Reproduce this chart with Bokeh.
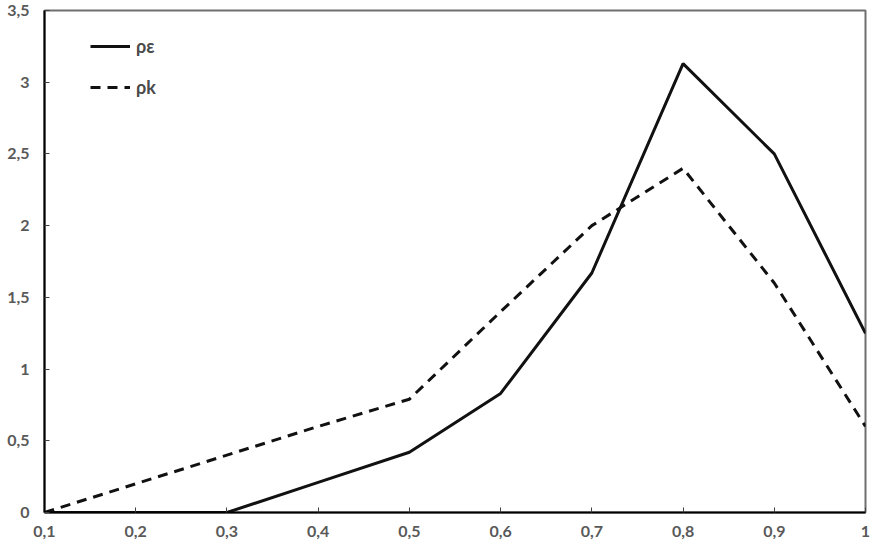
from bokeh.plotting import figure
from bokeh.models import Legend, LegendItem, FixedTicker, Range1d
from bokeh.embed import file_html
from bokeh.resources import INLINE

x_vals = [0.1, 0.2, 0.3, 0.4, 0.5, 0.6, 0.7, 0.8, 0.9, 1.0]
rho_eps = [0.0, 0.0, 0.0, 0.21, 0.42, 0.83, 1.67, 3.13, 2.50, 1.25]
rho_k = [0.0, 0.20, 0.40, 0.60, 0.79, 1.40, 2.00, 2.40, 1.60, 0.60]

x_ticks = [0.1, 0.2, 0.3, 0.4, 0.5, 0.6, 0.7, 0.8, 0.9, 1.0]
x_labels = ["0,1", "0,2", "0,3", "0,4", "0,5", "0,6", "0,7", "0,8", "0,9", "1"]
y_ticks = [0, 0.5, 1, 1.5, 2, 2.5, 3, 3.5]
y_labels = ["0", "0,5", "1", "1,5", "2", "2,5", "3", "3,5"]

FRAME_H = 502
p = figure(frame_width=821, frame_height=FRAME_H, output_backend="svg", toolbar_location=None,
           x_range=Range1d(0.1, 1.0), y_range=Range1d(0, 3.5),
           min_border_left=44, min_border_right=10, min_border_top=10, min_border_bottom=37)

p.xgrid.visible = False
p.ygrid.visible = False
p.outline_line_color = "#6f6f6f"
p.outline_line_width = 2
p.background_fill_color = "white"

r1 = p.line(x_vals, rho_eps, line_color="#111111", line_width=3)
r2 = p.line(x_vals, rho_k, line_color="#111111", line_width=3, line_dash="10 7")

for ax, ticks, labels in ((p.xaxis[0], x_ticks, x_labels), (p.yaxis[0], y_ticks, y_labels)):
    ax.ticker = FixedTicker(ticks=ticks)
    ax.major_label_overrides = {t: l for t, l in zip(ticks, labels)}
    ax.minor_tick_line_color = None
    ax.major_tick_in = 5
    ax.major_tick_out = 0
    ax.major_tick_line_color = "#404040"
    ax.axis_line_color = "black"
    ax.axis_line_width = 2
    ax.major_label_text_font = "Lato"
    ax.major_label_text_font_style = "bold"
    ax.major_label_text_font_size = "16px"
    ax.major_label_text_color = "#595959"

p.xaxis[0].major_label_standoff = 13
p.yaxis[0].major_label_standoff = 15

legend = Legend(items=[LegendItem(label="ρε", renderers=[r1]),
                       LegendItem(label="ρk", renderers=[r2])],
                location=(46, FRAME_H - 88))
legend.border_line_color = None
legend.background_fill_alpha = 0
legend.glyph_width = 40
legend.glyph_height = 20
legend.spacing = 19
legend.padding = 0
legend.margin = 0
legend.label_standoff = 6
legend.label_text_font = "Lato"
legend.label_text_font_style = "bold"
legend.label_text_font_size = "18px"
legend.label_text_color = "#4a4a4a"
p.add_layout(legend, "center")

open("out.html", "w").write(file_html(p, INLINE))
